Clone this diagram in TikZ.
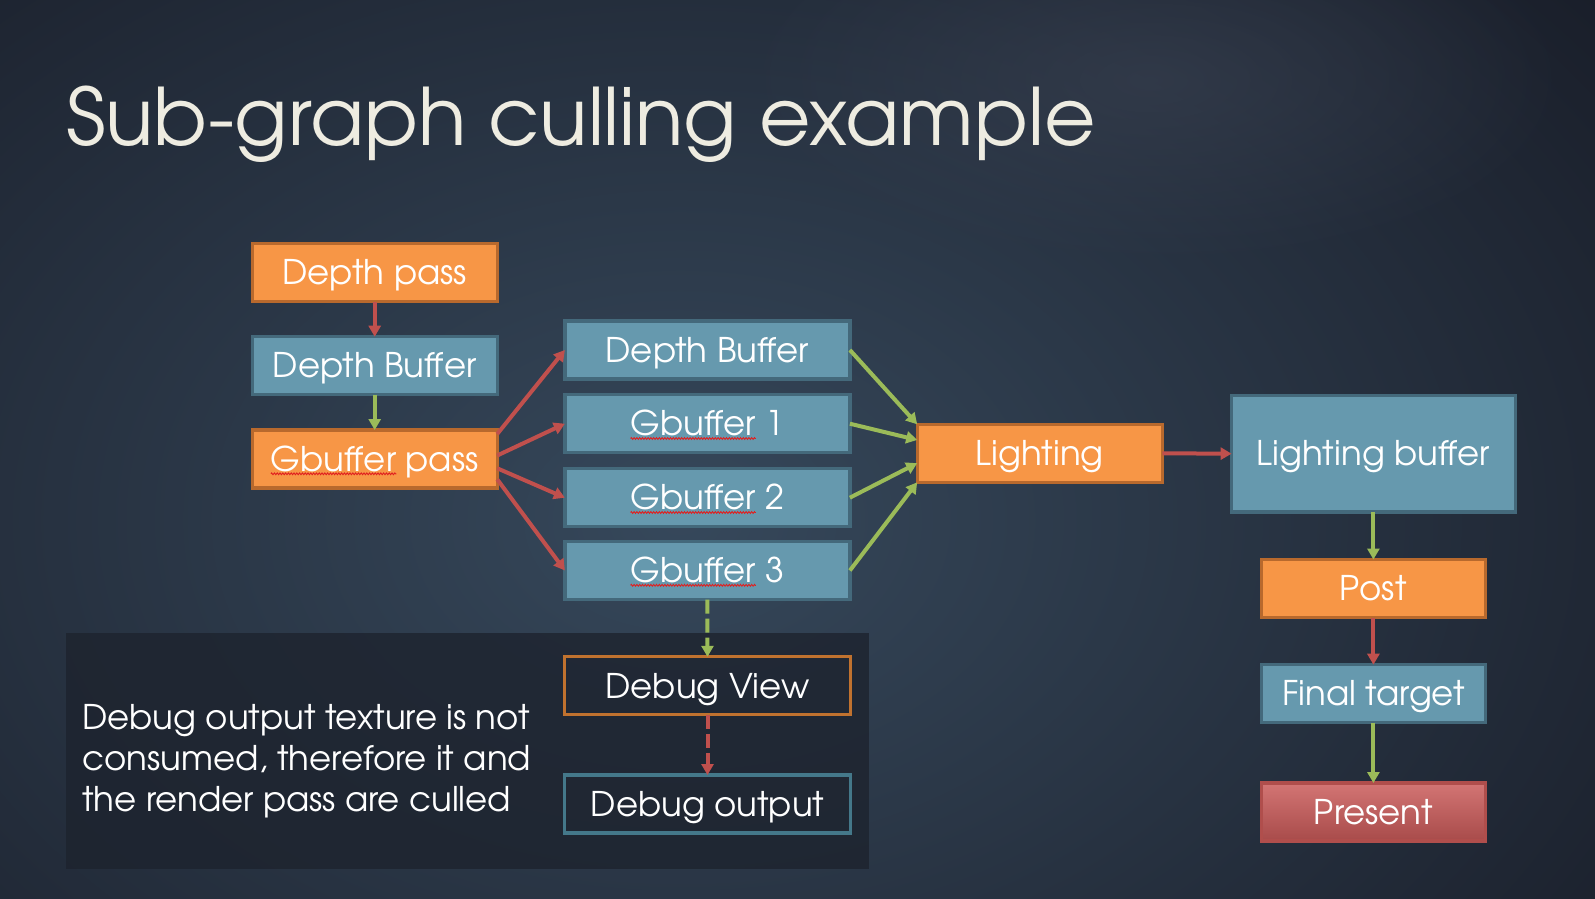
\documentclass[tikz,border=0pt]{standalone}
\usepackage{fontspec}
\setmainfont{TeX Gyre Adventor}
\usetikzlibrary{arrows.meta,calc,fadings,decorations.pathmorphing}
\definecolor{bgdark}{HTML}{181C27}
\definecolor{bgmid}{HTML}{36485B}
\definecolor{bglight}{HTML}{3A4252}
\definecolor{orfill}{HTML}{F79646}
\definecolor{orline}{HTML}{B8692D}
\definecolor{blfill}{HTML}{6699AE}
\definecolor{blline}{HTML}{44697B}
\definecolor{prtop}{HTML}{D37574}
\definecolor{prbot}{HTML}{A84B4A}
\definecolor{prline}{HTML}{B04E4C}
\definecolor{dvline}{HTML}{C0722F}
\definecolor{doline}{HTML}{44788A}
\definecolor{arred}{HTML}{C0504D}
\definecolor{argreen}{HTML}{9BBB59}
\definecolor{titlecol}{HTML}{EEECE1}
\definecolor{panelcol}{HTML}{1D232E}
\definecolor{spell}{HTML}{E02020}
\tikzfading[name=softglow, inner color=transparent!0, outer color=transparent!100]
\newlength\spellwd
\newcommand\spellwave[1]{\leavevmode\settowidth\spellwd{#1}\rlap{\tikz[baseline=0pt,x=1pt,y=1pt]{\useasboundingbox (0,0) rectangle (0,0.1);\draw[spell,line width=0.45pt,decorate,decoration={zigzag,amplitude=0.45pt,segment length=1.4pt}] (0,-1.3) -- (\spellwd,-1.3);}}#1}
\begin{document}
\begin{tikzpicture}[x=0.5pt,y=-0.5pt,
  box/.style={draw, line width=1.6pt, inner sep=0pt, outer sep=0pt, text=white,
    font=\fontsize{17}{20}\selectfont, text height=12.2pt, text depth=0pt, minimum height=29pt},
  pass/.style={box, fill=orfill, draw=orline, minimum width=122.5pt},
  buf/.style={box, fill=blfill, draw=blline, minimum width=142.5pt},
  redarrow/.style={draw=arred, line width=2pt, -{Triangle[length=5.5pt,width=6pt]}},
  greenarrow/.style={draw=argreen, line width=2pt, -{Triangle[length=5.5pt,width=6pt]}},
  dashline/.style={dash pattern=on 7pt off 2.5pt}
]
\useasboundingbox (0,0) rectangle (1595,899);
% background
\fill[bgdark] (0,0) rectangle (1595,899);
\begin{scope}
  \clip (0,0) rectangle (1595,899);
  \shade[inner color=bgmid, outer color=bgdark] (680,520) ellipse (1250 and 880);
  \fill[bglight, path fading=softglow, opacity=0.6] (1150,80) ellipse (420 and 190);
\end{scope}
% title
\node[anchor=base west, inner sep=0pt, text=titlecol, font=\fontsize{39.6}{47}\selectfont] (title) at (66,146) {Sub-graph culling example};
% note panel
\fill[panelcol, opacity=0.8] (66,633) rectangle (869,869);
\node[anchor=base west, inner sep=0pt, align=left, text=white, font=\fontsize{17}{20.4}\selectfont] (note) at (82,811.5)
  {Debug output texture is not\\consumed, therefore it and\\the render pass are culled};
% left column
\node[pass] (dp) at (374.7,272.7) {Depth pass};
\node[buf, minimum width=122.5pt] (db1) at (374.7,365.7) {Depth Buffer};
\node[pass] (gp) at (374.7,459) {\spellwave{Gbuffer} pass};
% middle column
\node[buf] (db2) at (707.4,350) {Depth Buffer};
\node[buf] (g1) at (707.4,423.7) {\spellwave{Gbuffer} 1};
\node[buf] (g2) at (707.4,497.7) {\spellwave{Gbuffer} 2};
\node[buf] (g3) at (707.4,570.5) {\spellwave{Gbuffer} 3};
\node[box, draw=dvline, minimum width=142.7pt] (dv) at (707.5,685.8) {Debug View};
\node[box, draw=doline, minimum width=142.7pt] (dout) at (707.5,804) {Debug output};
% lighting
\node[pass, minimum width=122.6pt] (lt) at (1039.8,453.3) {Lighting};
\node[buf, minimum width=141.8pt, minimum height=58.2pt] (lb) at (1373.4,453.7) {Lighting buffer};
\node[pass, minimum width=112.3pt] (post) at (1373.4,588.5) {Post};
\node[buf, minimum width=112.3pt] (ft) at (1373.4,693.7) {Final target};
\node[box, draw=prline, top color=prtop, bottom color=prbot, minimum width=112.3pt] (pr) at (1373.4,812) {Present};
% connectors
\draw[redarrow] (dp.south) -- (db1.north);
\draw[greenarrow] (db1.south) -- (gp.north);
\draw[redarrow] ($(gp.north east)!0.07!(gp.south east)$) -- (db2.west);
\draw[redarrow] ($(gp.north east)!0.44!(gp.south east)$) -- (g1.west);
\draw[redarrow] ($(gp.north east)!0.66!(gp.south east)$) -- (g2.west);
\draw[redarrow] ($(gp.north east)!0.85!(gp.south east)$) -- (g3.west);
\draw[greenarrow] (db2.east) -- (lt.north west);
\draw[greenarrow] (g1.east) -- ($(lt.north west)!0.27!(lt.south west)$);
\draw[greenarrow] (g2.east) -- ($(lt.north west)!0.67!(lt.south west)$);
\draw[greenarrow] (g3.east) -- (lt.south west);
\draw[redarrow] (lt.east) -- (lb.west);
\draw[greenarrow] (lb.south) -- (post.north);
\draw[redarrow] (post.south) -- (ft.north);
\draw[greenarrow] (ft.south) -- (pr.north);
\draw[greenarrow, dashline] (g3.south) -- (dv.north);
\draw[redarrow, dashline] (dv.south) -- (dout.north);
\end{tikzpicture}
\end{document}
